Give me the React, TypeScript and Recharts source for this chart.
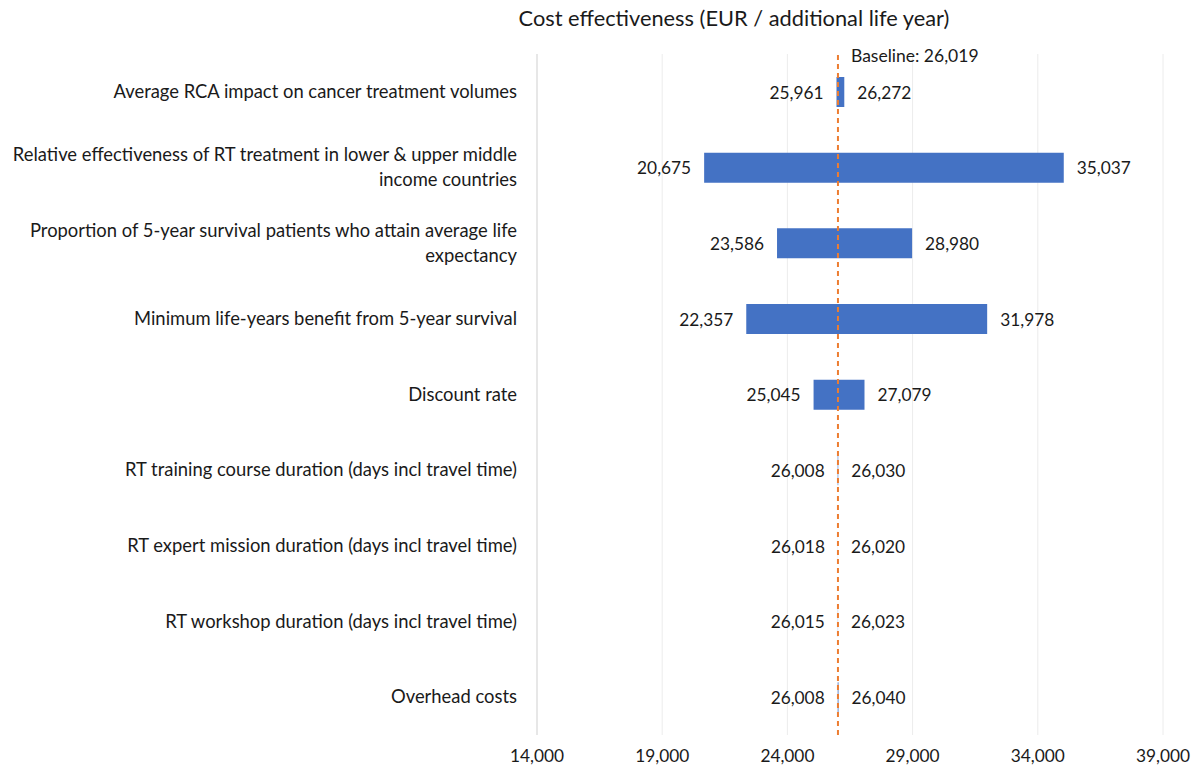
import { BarChart, Bar, XAxis, YAxis, CartesianGrid, ReferenceLine, LabelList } from 'recharts'

const categories = [
  'Average RCA impact on cancer treatment volumes',
  'Relative effectiveness of RT treatment in lower & upper middle|income countries',
  'Proportion of 5-year survival patients who attain average life|expectancy',
  'Minimum life-years benefit from 5-year survival',
  'Discount rate',
  'RT training course duration (days incl travel time)',
  'RT expert mission duration (days incl travel time)',
  'RT workshop duration (days incl travel time)',
  'Overhead costs',
]
const lowValues = [25961, 20675, 23586, 22357, 25045, 26008, 26018, 26015, 26008]
const highValues = [26272, 35037, 28980, 31978, 27079, 26030, 26020, 26023, 26040]
const baseline = 26019
const xTicks = [14000, 19000, 24000, 29000, 34000, 39000]

const FONT = 'Lato, "Open Sans", sans-serif'
const TXT = '#1a1a1a'
const fmt = (v: number) => v.toLocaleString('en-US')

const data = categories.map((name, i) => ({
  name,
  low: lowValues[i],
  high: highValues[i],
}))

function CategoryTick({ x, y, payload }: any) {
  const lines = String(payload.value).split('|')
  const start = -((lines.length - 1) * 25) / 2 - 1
  return (
    <text x={x} y={y} textAnchor="end" fontSize={18.4} fill={TXT} fontFamily={FONT}>
      {lines.map((l, i) => (
        <tspan key={i} x={x} dy={i === 0 ? start : 25} dominantBaseline="central">
          {l}
        </tspan>
      ))}
    </text>
  )
}

function LowLabel({ x, y, height, value }: any) {
  return (
    <text x={x - 13} y={y + height / 2} textAnchor="end" dominantBaseline="central" fontSize={17.3} fill={TXT} fontFamily={FONT}>
      {fmt(value)}
    </text>
  )
}

function HighLabel({ x, y, width, height, value }: any) {
  return (
    <text x={x + width + 13} y={y + height / 2} textAnchor="start" dominantBaseline="central" fontSize={17.3} fill={TXT} fontFamily={FONT}>
      {fmt(value)}
    </text>
  )
}

function BaselineLabel({ viewBox }: any) {
  return (
    <text x={viewBox.x + 13} y={viewBox.y + 1} dominantBaseline="central" fontSize={17.5} fill={TXT} fontFamily={FONT}>
      {'Baseline: ' + fmt(baseline)}
    </text>
  )
}

export default function App() {
  return (
    <div style={{ position: 'absolute', left: 0, top: 0, width: 1200, height: 772, background: '#fff' }}>
      <div
        style={{
          position: 'absolute',
          left: 0,
          width: 1468,
          top: 4,
          textAlign: 'center',
          fontSize: 21.8,
          fontFamily: FONT,
          color: TXT,
        }}
      >
        Cost effectiveness (EUR / additional life year)
      </div>
      <BarChart
        width={1200}
        height={772}
        data={data}
        layout="vertical"
        margin={{ top: 54, right: 37, bottom: 0, left: 0 }}
      >
        <CartesianGrid horizontal={false} stroke="#ececec" />
        <XAxis
          type="number"
          domain={[14000, 39000]}
          ticks={xTicks}
          tickFormatter={fmt}
          axisLine={false}
          tickLine={false}
          tickSize={0}
          tickMargin={15}
          height={37}
          tick={{ fontSize: 17.3, fill: TXT, fontFamily: FONT }}
          allowDataOverflow
        />
        <YAxis
          type="category"
          dataKey="name"
          width={537}
          axisLine={{ stroke: '#d9d9d9' }}
          tickLine={false}
          tickSize={0}
          tickMargin={20}
          tick={<CategoryTick />}
          interval={0}
        />
        <Bar
          dataKey={(d: any) => [d.low, d.high]}
          fill="#4472C4"
          barSize={30}
          isAnimationActive={false}
        >
          <LabelList dataKey="low" content={<LowLabel />} />
          <LabelList dataKey="high" content={<HighLabel />} />
        </Bar>
        <ReferenceLine
          x={baseline}
          stroke="#ED7D31"
          strokeWidth={2}
          strokeDasharray="5 4"
          label={<BaselineLabel />}
        />
      </BarChart>
    </div>
  )
}
